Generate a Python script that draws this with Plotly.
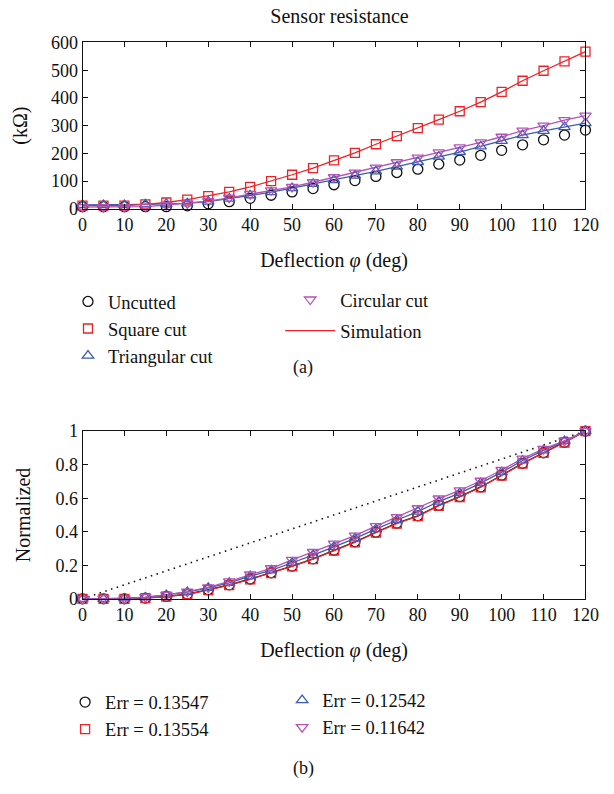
import plotly.graph_objects as go

# ---------------- data ----------------
deflection = [0, 5, 10, 15, 20, 25, 30, 35, 40, 45, 50, 55, 60,
              65, 70, 75, 80, 85, 90, 95, 100, 105, 110, 115, 120]

# (a) sensor resistance, kOhm
uncutted = [8, 8, 8, 8, 8, 11, 18, 26, 38, 49, 61, 73, 87,
            102, 117, 131, 143, 161, 176, 193, 211, 231, 249, 266, 284]
square_cut = [12, 12, 12, 16, 23, 33, 46, 61, 79, 100, 123, 147, 175,
              202, 233, 262, 291, 322, 352, 385, 422, 462, 498, 532, 567]
triangular_cut = [14, 14, 14, 16, 18, 20, 26, 37, 49, 60, 75, 90, 104,
                  120, 135, 152, 169, 188, 205, 225, 245, 266, 281, 295, 309]
circular_cut = [6, 6, 6, 8, 14, 20, 28, 40, 53, 67, 79, 96, 114,
                131, 149, 168, 185, 204, 222, 240, 260, 282, 300, 320, 336]

# (b) normalized
norm_uncutted = [0, 0, 0, 0.004, 0.014, 0.027, 0.054, 0.083, 0.118, 0.155, 0.195, 0.238, 0.29,
                 0.34, 0.397, 0.451, 0.495, 0.557, 0.609, 0.667, 0.737, 0.808, 0.871, 0.933, 1]
norm_square = [0, 0, 0, 0.004, 0.013, 0.027, 0.052, 0.081, 0.116, 0.153, 0.193, 0.236, 0.288,
               0.337, 0.395, 0.449, 0.493, 0.555, 0.607, 0.665, 0.735, 0.807, 0.870, 0.932, 1]
norm_triangular = [0, 0, 0.002, 0.008, 0.022, 0.04, 0.065, 0.095, 0.135, 0.17, 0.215, 0.26, 0.31,
                   0.36, 0.415, 0.47, 0.52, 0.58, 0.63, 0.69, 0.755, 0.825, 0.885, 0.94, 1]
norm_circular = [0, 0.002, 0.002, 0.010, 0.023, 0.043, 0.068, 0.104, 0.145, 0.182, 0.232, 0.279, 0.329,
                 0.377, 0.433, 0.487, 0.540, 0.598, 0.646, 0.704, 0.768, 0.836, 0.894, 0.942, 1]
linear_ref_x = [0, 120]
linear_ref_y = [0, 1]

err_labels = ["Err = 0.13547", "Err = 0.13554", "Err = 0.12542", "Err = 0.11642"]

x_ticks = list(range(0, 121, 10))
y_ticks_a = list(range(0, 601, 100))
y_ticks_b = [0, 0.2, 0.4, 0.6, 0.8, 1]
y_ticklabels_b = ["0", "0.2", "0.4", "0.6", "0.8", "1"]

# ---------------- style ----------------
FONT = "Liberation Serif"
BLACK = "#111111"
RED = "#ee2226"
BLUE = "#3b5cae"
MAGENTA = "#b453b8"
W, H = 614, 794
LEGFS = 18.5

fig = go.Figure()

def mk(symbol, color, size=9):
    return dict(symbol=symbol, size=size, color=color, line=dict(color=color, width=1.3))

# --- (a) simulation lines ---
fig.add_trace(go.Scatter(x=deflection, y=triangular_cut, mode="lines", line=dict(color=BLUE, width=1.3),
                         showlegend=False, xaxis="x", yaxis="y", hoverinfo="skip"))
fig.add_trace(go.Scatter(x=deflection, y=circular_cut, mode="lines", line=dict(color=MAGENTA, width=1.3),
                         showlegend=False, xaxis="x", yaxis="y", hoverinfo="skip"))
fig.add_trace(go.Scatter(x=deflection, y=square_cut, mode="lines", line=dict(color=RED, width=1.3),
                         name="Simulation", legend="legend2", legendgroup="s", legendrank=2,
                         xaxis="x", yaxis="y"))
# --- (a) markers ---
fig.add_trace(go.Scatter(x=deflection, y=uncutted, mode="markers", marker=mk("circle-open", BLACK, 10),
                         name="Uncutted", legend="legend", cliponaxis=False, xaxis="x", yaxis="y"))
fig.add_trace(go.Scatter(x=deflection, y=square_cut, mode="markers", marker=mk("square-open", RED, 9),
                         name="Square cut", legend="legend", cliponaxis=False, xaxis="x", yaxis="y"))
fig.add_trace(go.Scatter(x=deflection, y=triangular_cut, mode="markers", marker=mk("triangle-up-open", BLUE, 10),
                         name="Triangular cut", legend="legend", cliponaxis=False, xaxis="x", yaxis="y"))
fig.add_trace(go.Scatter(x=deflection, y=circular_cut, mode="markers", marker=mk("triangle-down-open", MAGENTA, 10),
                         name="Circular cut", legend="legend2", legendgroup="c", legendrank=1,
                         cliponaxis=False, xaxis="x", yaxis="y"))

# --- (b) ---
fig.add_trace(go.Scatter(x=linear_ref_x, y=linear_ref_y, mode="lines",
                         line=dict(color=BLACK, width=1.6, dash="1.5px,4.5px"),
                         showlegend=False, xaxis="x2", yaxis="y2", hoverinfo="skip"))
series_b = [
    (norm_uncutted, "circle-open", BLACK, err_labels[0], "legend3", 10),
    (norm_square, "square-open", RED, err_labels[1], "legend3", 9),
    (norm_triangular, "triangle-up-open", BLUE, err_labels[2], "legend4", 10),
    (norm_circular, "triangle-down-open", MAGENTA, err_labels[3], "legend4", 10),
]
for vals, sym, col, lab, leg, sz in series_b:
    fig.add_trace(go.Scatter(x=deflection, y=vals, mode="lines", line=dict(color=col, width=1.3),
                             showlegend=False, xaxis="x2", yaxis="y2", hoverinfo="skip"))
for vals, sym, col, lab, leg, sz in series_b:
    fig.add_trace(go.Scatter(x=deflection, y=vals, mode="markers", marker=mk(sym, col, sz),
                             name=lab, legend=leg, cliponaxis=False, xaxis="x2", yaxis="y2"))

# ---------------- layout ----------------
xdom = [80 / W, 599 / W]
ydom_a = [1 - 204 / H, 1 - 33.3 / H]
ydom_b = [1 - 604 / H, 1 - 432 / H]

axis_common = dict(showline=True, linecolor=BLACK, linewidth=1, mirror="ticks",
                   ticks="inside", ticklen=5, tickwidth=1, tickcolor=BLACK,
                   showgrid=False, zeroline=False,
                   tickfont=dict(family=FONT, size=18, color=BLACK))
xtitle = dict(text="Deflection <i>φ</i> (deg)", font=dict(family=FONT, size=20, color=BLACK), standoff=18)

legfont = dict(family=FONT, size=LEGFS, color=BLACK)
fig.update_layout(
    width=W, height=H,
    margin=dict(l=0, r=0, t=0, b=0),
    paper_bgcolor="white", plot_bgcolor="white",
    font=dict(family=FONT, size=20, color=BLACK),
    xaxis=dict(domain=xdom, range=[0, 120], tickvals=x_ticks, anchor="y", title=xtitle, **axis_common),
    yaxis=dict(domain=ydom_a, range=[0, 600], tickvals=y_ticks_a, anchor="x",
               title=dict(text="(kΩ)", font=dict(family=FONT, size=20, color=BLACK), standoff=17),
               **axis_common),
    xaxis2=dict(domain=xdom, range=[0, 120], tickvals=x_ticks, anchor="y2", title=xtitle, **axis_common),
    yaxis2=dict(domain=ydom_b, range=[0, 1], tickvals=y_ticks_b, ticktext=y_ticklabels_b, anchor="x2",
                title=dict(text="Normalized", font=dict(family=FONT, size=20, color=BLACK), standoff=19),
                **axis_common),
    title=dict(text="Sensor resistance", x=339.5 / W, xanchor="center", y=1 - 16 / H, yanchor="middle",
               font=dict(family=FONT, size=20, color=BLACK)),
    legend=dict(x=65 / W, xanchor="left", y=1 - 280 / H, yanchor="top", bgcolor="rgba(0,0,0,0)",
                font=legfont, tracegroupgap=0),
    legend2=dict(x=284 / W, xanchor="left", y=1 - 278 / H, yanchor="top", bgcolor="rgba(0,0,0,0)",
                 font=legfont, tracegroupgap=4, itemwidth=50),
    legend3=dict(x=62 / W, xanchor="left", y=1 - 691 / H, yanchor="top", bgcolor="rgba(0,0,0,0)",
                 font=legfont),
    legend4=dict(x=286 / W, xanchor="left", y=1 - 689 / H, yanchor="top", bgcolor="rgba(0,0,0,0)",
                 font=legfont),
    annotations=[
        dict(text="(a)", x=307 / W, y=1 - 367 / H, xref="paper", yref="paper", showarrow=False,
             xanchor="center", yanchor="middle", font=dict(family=FONT, size=18, color=BLACK)),
        dict(text="(b)", x=308 / W, y=1 - 778 / H, xref="paper", yref="paper", showarrow=False,
             xanchor="center", yanchor="middle", font=dict(family=FONT, size=18, color=BLACK)),
    ],
)

fig.write_html("out.html")
